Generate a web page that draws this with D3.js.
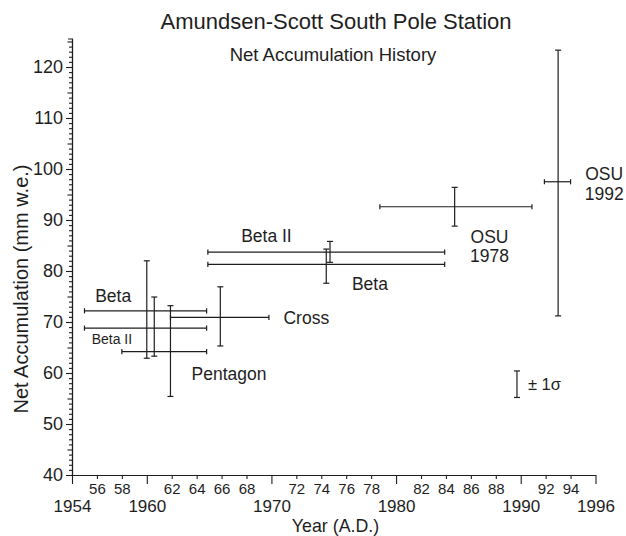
<!DOCTYPE html>
<html>
<head>
<meta charset="utf-8">
<script src="https://cdn.jsdelivr.net/npm/d3@7/dist/d3.min.js"></script>
<style>
  html, body { margin: 0; padding: 0; background: #ffffff; }
  svg { display: block; font-family: "Liberation Sans", Arial, Helvetica, sans-serif; }
</style>
</head>
<body>
<svg id="chart" width="626" height="536"></svg>
<script>
// ---------- data ----------
const series   = ["Beta", "Beta II", "Pentagon", "Cross", "Beta", "Beta II", "OSU 1978", "OSU 1992"];
const yearLow  = [1955.0, 1955.0, 1958.0, 1961.9, 1964.9, 1964.9, 1978.7, 1991.9];
const yearHigh = [1964.8, 1964.8, 1964.8, 1969.8, 1983.9, 1983.9, 1990.9, 1994.0];
const yearMid  = [1960.0, 1960.6, 1961.9, 1965.9, 1974.4, 1974.7, 1984.7, 1993.0];
const accum    = [72.2, 68.8, 64.2, 70.9, 81.3, 83.7, 92.6, 97.5];
const accumLow = [62.9, 63.3, 55.4, 65.3, 77.6, 81.7, 88.8, 71.2];
const accumHigh= [82.0, 74.9, 73.2, 76.9, 84.3, 85.8, 96.4, 123.3];

const majorYears = [1954, 1960, 1970, 1980, 1990, 1996];
const minorYears = [1956, 1958, 1962, 1964, 1966, 1968, 1972, 1974, 1976, 1978,
                    1982, 1984, 1986, 1988, 1992, 1994];
const yTickValues = [40, 50, 60, 70, 80, 90, 100, 110, 120];

// sigma key (year, low, high)
const sigmaKey = [1989.7, 55.2, 60.4];

// ---------- layout ----------
const svg = d3.select("#chart");
const x = d3.scaleLinear().domain([1954, 1996]).range([72, 595.5]);
const y = d3.scaleLinear().domain([40, 120]).range([475, 67]);
const yTop = 125.6;
const ink = "#1e1e1e";

// titles
svg.append("text").attr("x", 336).attr("y", 21).attr("text-anchor", "middle")
  .attr("dominant-baseline", "central").attr("font-size", 22).attr("fill", ink)
  .text("Amundsen-Scott South Pole Station");
svg.append("text").attr("x", 333).attr("y", 54).attr("text-anchor", "middle")
  .attr("dominant-baseline", "central").attr("font-size", 18.5).attr("fill", ink)
  .text("Net Accumulation History");

// ---------- y axis ----------
const yAxisScale = y.copy().domain([40, yTop]).range([y(40), y(yTop)]);
const gy = svg.append("g").attr("transform", `translate(${x(1954)},0)`);
gy.append("g").call(d3.axisLeft(yAxisScale).tickValues(d3.range(40, 126, 1).filter(v => v % 5 !== 0))
  .tickSize(3).tickSizeOuter(4).tickFormat(""));
gy.append("g").call(d3.axisLeft(yAxisScale).tickValues(d3.range(45, 126, 10))
  .tickSize(4.5).tickSizeOuter(0).tickFormat(""));
gy.append("g").call(d3.axisLeft(yAxisScale).tickValues(yTickValues)
  .tickSize(6).tickSizeOuter(0).tickPadding(3).tickFormat(d3.format("d")));
gy.selectAll("text").attr("font-size", 18).attr("fill", ink).attr("font-family", null);
gy.selectAll("path, line").attr("stroke", ink).attr("stroke-width", 1.1);

// ---------- x axis ----------
const gx = svg.append("g").attr("transform", `translate(0,${y(40)})`);
gx.append("g").call(d3.axisBottom(x).tickValues(minorYears).tickSize(4).tickSizeOuter(0)
  .tickPadding(4.5).tickFormat(d => String(d).slice(2)))
  .selectAll("text").attr("font-size", 15);
gx.append("g").call(d3.axisBottom(x).tickValues(majorYears).tickSize(9).tickSizeOuter(0)
  .tickPadding(16).tickFormat(d3.format("d")))
  .selectAll("text").attr("font-size", 17);
gx.selectAll("text").attr("fill", ink).attr("font-family", null);
gx.selectAll("path, line").attr("stroke", ink).attr("stroke-width", 1.1);

// axis titles
svg.append("text").attr("x", 335.5).attr("y", 526).attr("text-anchor", "middle")
  .attr("dominant-baseline", "central").attr("font-size", 17.8).attr("fill", ink)
  .text("Year (A.D.)");
svg.append("text").attr("transform", "translate(21,289) rotate(-90)")
  .attr("text-anchor", "middle").attr("dominant-baseline", "central")
  .attr("font-size", 20).attr("fill", ink)
  .text("Net Accumulation (mm w.e.)");

// ---------- error bars ----------
const cap = 3, capH = 2.6;
const bars = svg.append("g").attr("stroke", ink).attr("stroke-width", 1.2).attr("fill", "none");
series.forEach((name, i) => {
  const g = bars.append("g");
  // horizontal (time span)
  g.append("line").attr("x1", x(yearLow[i])).attr("x2", x(yearHigh[i]))
    .attr("y1", y(accum[i])).attr("y2", y(accum[i]));
  [yearLow[i], yearHigh[i]].forEach(v => g.append("line")
    .attr("x1", x(v)).attr("x2", x(v))
    .attr("y1", y(accum[i]) - capH).attr("y2", y(accum[i]) + capH));
  // vertical (±1σ)
  g.append("line").attr("x1", x(yearMid[i])).attr("x2", x(yearMid[i]))
    .attr("y1", y(accumLow[i])).attr("y2", y(accumHigh[i]));
  [accumLow[i], accumHigh[i]].forEach(v => g.append("line")
    .attr("x1", x(yearMid[i]) - cap).attr("x2", x(yearMid[i]) + cap)
    .attr("y1", y(v)).attr("y2", y(v)));
});

// sigma key
const kg = svg.append("g").attr("stroke", ink).attr("stroke-width", 1.2);
kg.append("line").attr("x1", x(sigmaKey[0])).attr("x2", x(sigmaKey[0]))
  .attr("y1", y(sigmaKey[1])).attr("y2", y(sigmaKey[2]));
[sigmaKey[1], sigmaKey[2]].forEach(v => kg.append("line")
  .attr("x1", x(sigmaKey[0]) - cap).attr("x2", x(sigmaKey[0]) + cap)
  .attr("y1", y(v)).attr("y2", y(v)));
svg.append("text").attr("x", x(sigmaKey[0]) + 11).attr("y", y((sigmaKey[1] + sigmaKey[2]) / 2))
  .attr("dominant-baseline", "central").attr("font-size", 16.5).attr("fill", ink)
  .text("± 1σ");

// ---------- labels ----------
const labelText = [["Beta"], ["Beta II"], ["Pentagon"], ["Cross"], ["Beta II"], ["Beta"], ["OSU", "1978"], ["OSU", "1992"]];
const labelAt = [
  {yr: 1957.3, v: 75.1, fs: 17.5},
  {yr: 1957.2, v: 66.6, fs: 14},
  {yr: 1966.6, v: 59.9, fs: 17.5},
  {yr: 1972.8, v: 70.8, fs: 17.5},
  {yr: 1969.6, v: 86.9, fs: 17.5},
  {yr: 1977.9, v: 77.4, fs: 17.5},
  {yr: 1987.5, v: 86.7, fs: 17.5},
  {yr: 1996.7, v: 99.0, fs: 17.5}
];
labelText.forEach((lines, i) => {
  const a = labelAt[i];
  lines.forEach((t, j) => {
    svg.append("text").attr("x", x(a.yr)).attr("y", y(a.v) + j * 19.5)
      .attr("text-anchor", "middle").attr("dominant-baseline", "central")
      .attr("font-size", a.fs).attr("fill", ink).text(t);
  });
});
</script>
</body>
</html>
